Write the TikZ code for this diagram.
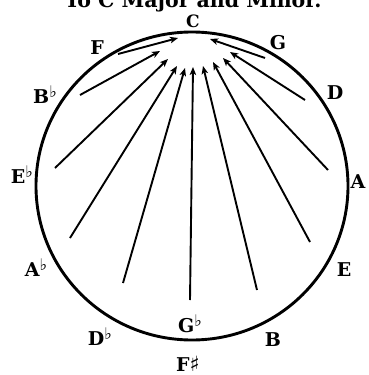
\documentclass[tikz,border=0pt]{standalone}
\usepackage{fontspec}
\setmainfont{DejaVu Serif}
\newcommand{\fl}{\raisebox{0.33em}{\bfseries\fontsize{16}{16}\selectfont ♭}}
\newcommand{\shp}{{\bfseries\fontsize{21}{21}\selectfont ♯}}
\usetikzlibrary{arrows.meta}
\begin{document}
\begin{tikzpicture}[x=1pt,y=-1pt,
  lab/.style={font=\bfseries\fontsize{19}{21}\selectfont, inner sep=0pt},
  arr/.style={line width=1.9pt, -{Stealth[length=8pt,width=6.5pt,inset=2pt]}},
  rim/.style={line width=2.9pt}]
\useasboundingbox (0,0) rectangle (368,375);
\node[lab, font=\bfseries\fontsize{20.5}{22}\selectfont, anchor=base] (title) at (193,7) {To C Major and Minor.};
% circle
\draw[rim] (192,186) ellipse [x radius=156, y radius=154];
% labels
\node[lab, font=\bfseries\fontsize{17}{19}\selectfont] (C) at (193,21) {C};
\node[lab] (F) at (97,48) {F};
\node[lab] (G) at (278,43) {G};
\node[lab] (Bb) at (45,95) {B\fl};
\node[lab] (D) at (335,93) {D};
\node[lab] (Eb) at (22,175) {E\fl};
\node[lab] (A) at (358,182) {A};
\node[lab] (Ab) at (36,268) {A\fl};
\node[lab] (E) at (344,270) {E};
\node[lab] (Db) at (100,337) {D\fl};
\node[lab] (Gb) at (190,324) {G\fl};
\node[lab] (B) at (273,340) {B};
\node[lab, anchor=base] (Fs) at (188,371) {F\shp};
% arrow ends
\coordinate (sF) at (118,54);  \coordinate (tF) at (178,38);
\coordinate (sG) at (265,58);  \coordinate (tG) at (210,39);
\coordinate (sBb) at (80,95);  \coordinate (tBb) at (160,51);
\coordinate (sD) at (305,100); \coordinate (tD) at (230,52);
\coordinate (sEb) at (55,168); \coordinate (tEb) at (168,59);
\coordinate (sA) at (328,170); \coordinate (tA) at (223,58);
\coordinate (sAb) at (70,238); \coordinate (tAb) at (177,66);
\coordinate (sE) at (310,242); \coordinate (tE) at (213,62);
\coordinate (sDb) at (123,283); \coordinate (tDb) at (185,68);
\coordinate (sGb) at (190,300); \coordinate (tGb) at (193,67);
\coordinate (sB) at (257,290); \coordinate (tB) at (203,66);
\foreach \k in {F,G,Bb,D,Eb,A,Ab,E,Db,Gb,B}
  \draw[arr] (s\k) -- (t\k);
\end{tikzpicture}
\end{document}
